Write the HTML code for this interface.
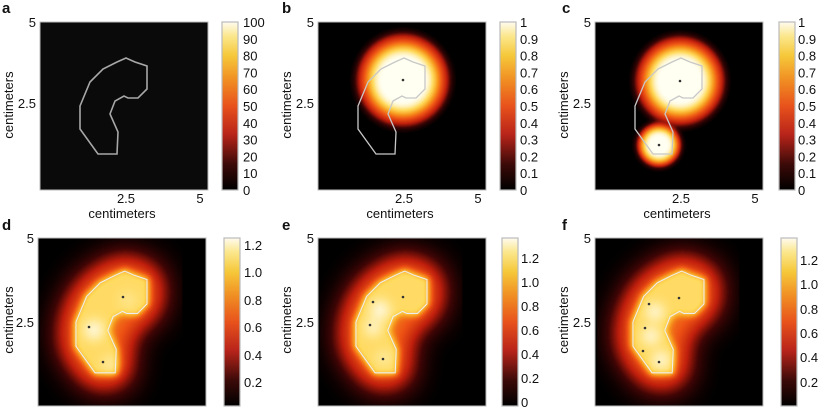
<!DOCTYPE html>
<html><head><meta charset="utf-8"><style>
html,body{margin:0;padding:0;background:#fff}
svg{display:block}
text{font-family:"Liberation Sans",Arial,sans-serif;fill:#111}
</style></head><body>
<svg width="818" height="412" viewBox="0 0 818 412" xmlns="http://www.w3.org/2000/svg">
<defs>
<path id="k" d="M86,36 L95,40 L107,44 L107,67 L98,76 L88,76 L84,74 L75,79 L70,92 L78,110 L77,132 L58,132 L40,107 L40,84 L50,60 L63,47 L77,40 Z"/>
<clipPath id="box"><rect x="0" y="0" width="168" height="168"/></clipPath>
<filter id="map" x="0" y="0" width="1" height="1" color-interpolation-filters="sRGB">
<feComponentTransfer>
<feFuncR type="table" tableValues="0 0.25 0.75 0.93 0.97 1 1"/>
<feFuncG type="table" tableValues="0 0.02 0.12 0.32 0.6 0.85 1"/>
<feFuncB type="table" tableValues="0 0.02 0.05 0.08 0.12 0.35 0.95"/>
<feFuncA type="linear" slope="0" intercept="1"/>
</feComponentTransfer>
</filter>
<filter id="b14" x="-50%" y="-50%" width="200%" height="200%"><feGaussianBlur stdDeviation="14"/></filter>
<filter id="b4" x="-50%" y="-50%" width="200%" height="200%"><feGaussianBlur stdDeviation="3"/></filter>
<filter id="b6" x="-50%" y="-50%" width="200%" height="200%"><feGaussianBlur stdDeviation="6"/></filter>
<filter id="b2" x="-50%" y="-50%" width="200%" height="200%"><feGaussianBlur stdDeviation="2.5"/></filter>
<radialGradient id="blob">
<stop offset="0" stop-color="#fff"/>
<stop offset="0.45" stop-color="#fff"/>
<stop offset="0.56" stop-color="#d8d8d8"/>
<stop offset="0.7" stop-color="#888"/>
<stop offset="0.85" stop-color="#404040"/>
<stop offset="1" stop-color="#000" stop-opacity="0"/>
</radialGradient>
<linearGradient id="cb" x1="0" y1="1" x2="0" y2="0">
<stop offset="0" stop-color="#000"/>
<stop offset="0.15" stop-color="#3a0a08"/>
<stop offset="0.33" stop-color="#b8241a"/>
<stop offset="0.5" stop-color="#e8521c"/>
<stop offset="0.65" stop-color="#f08c22"/>
<stop offset="0.8" stop-color="#f6c83a"/>
<stop offset="0.92" stop-color="#fbe890"/>
<stop offset="1" stop-color="#fffbf0"/>
</linearGradient>
<g id="kid">
<rect width="168" height="168" fill="#000"/>
<g transform="translate(74,85) scale(1.06) translate(-74,-85)">
<use href="#k" fill="#9a9a9a" stroke="#9a9a9a" stroke-width="32" stroke-linejoin="round" filter="url(#b14)"/>
<use href="#k" fill="#d8d8d8" stroke="#d8d8d8" stroke-width="4" filter="url(#b4)"/>
</g>
</g>
</defs>

<g font-weight="bold" font-size="15">
<text x="2" y="13">a</text><text x="282" y="13">b</text><text x="562" y="13">c</text>
<text x="2" y="230">d</text><text x="282" y="230">e</text><text x="562" y="230">f</text>
</g>

<g transform="translate(40,22)">
<rect width="168" height="168" fill="#0a0a0a"/>
<use href="#k" fill="none" stroke="#a8a8a8" stroke-width="1.6"/>
</g>
<g transform="translate(318,22)" clip-path="url(#box)">
<g filter="url(#map)"><rect width="168" height="168" fill="#000"/>
<g filter="url(#b2)"><circle cx="85" cy="58" r="54" fill="url(#blob)"/></g></g>
<use href="#k" fill="none" stroke="#c8c8c8" stroke-width="1.3"/>
<circle cx="85" cy="58" r="1.3" fill="#333"/>
</g>
<g transform="translate(595,22)" clip-path="url(#box)">
<g filter="url(#map)"><rect width="168" height="168" fill="#000"/>
<g filter="url(#b2)"><circle cx="85" cy="59" r="52" fill="url(#blob)"/><circle cx="64" cy="123" r="26" fill="url(#blob)"/></g></g>
<use href="#k" fill="none" stroke="#c8c8c8" stroke-width="1.3"/>
<circle cx="85" cy="59" r="1.3" fill="#333"/><circle cx="64" cy="123" r="1.3" fill="#333"/>
</g>

<g transform="translate(38,238)" clip-path="url(#box)">
<g filter="url(#map)"><use href="#kid"/>
<g fill="#fff" filter="url(#b6)"><circle cx="90" cy="62" r="7" fill="#e8e8e8"/><circle cx="56" cy="92" r="9"/><circle cx="72" cy="126" r="7" fill="#eee"/></g></g>
<g transform="translate(74,85) scale(1.06) translate(-74,-85)"><use href="#k" fill="none" stroke="#eee" stroke-width="1"/></g>
<g fill="#333"><circle cx="85" cy="59" r="1.3"/><circle cx="51" cy="89" r="1.3"/><circle cx="65" cy="124" r="1.3"/></g>
</g>
<g transform="translate(318,238)" clip-path="url(#box)">
<g filter="url(#map)"><use href="#kid"/>
<g fill="#fff" filter="url(#b6)"><circle cx="62" cy="72" r="9"/><circle cx="55" cy="90" r="7"/><circle cx="66" cy="120" r="7" fill="#eee"/></g></g>
<g transform="translate(74,85) scale(1.06) translate(-74,-85)"><use href="#k" fill="none" stroke="#eee" stroke-width="1"/></g>
<g fill="#333"><circle cx="85" cy="59" r="1.3"/><circle cx="55" cy="64" r="1.3"/><circle cx="52" cy="87" r="1.3"/><circle cx="65" cy="121" r="1.3"/></g>
</g>
<g transform="translate(595,238)" clip-path="url(#box)">
<g filter="url(#map)"><use href="#kid"/>
<g fill="#fff" filter="url(#b6)"><circle cx="60" cy="74" r="8"/><circle cx="56" cy="98" r="8"/><circle cx="66" cy="122" r="8"/></g></g>
<g transform="translate(74,85) scale(1.06) translate(-74,-85)"><use href="#k" fill="none" stroke="#eee" stroke-width="1"/></g>
<g fill="#333"><circle cx="84" cy="60" r="1.3"/><circle cx="54" cy="66" r="1.3"/><circle cx="50" cy="90" r="1.3"/><circle cx="48" cy="113" r="1.3"/><circle cx="64" cy="124" r="1.3"/></g>
</g>

<g fill="none" stroke="#bbb" stroke-width="1">
<rect x="40" y="22" width="168" height="168"/><rect x="318" y="22" width="168" height="168"/><rect x="595" y="22" width="168" height="168"/>
<rect x="38" y="238" width="168" height="168"/><rect x="318" y="238" width="168" height="168"/><rect x="595" y="238" width="168" height="168"/>
</g>

<g fill="url(#cb)" stroke="#bbb" stroke-width="1.2">
<rect x="222" y="22" width="16" height="168"/><rect x="500" y="22" width="16" height="168"/><rect x="779" y="22" width="16" height="168"/>
<rect x="224" y="238" width="16" height="168"/><rect x="502" y="238" width="16" height="168"/><rect x="781" y="238" width="16" height="168"/>
</g>

<g font-size="13" text-anchor="end">
<text x="36" y="27">5</text><text x="36" y="108">2.5</text>
<text x="314" y="27">5</text><text x="314" y="108">2.5</text>
<text x="591" y="27">5</text><text x="591" y="108">2.5</text>
<text x="34" y="243">5</text><text x="34" y="327">2.5</text>
<text x="314" y="243">5</text><text x="314" y="327">2.5</text>
<text x="591" y="243">5</text><text x="591" y="327">2.5</text>
</g>
<g font-size="13" text-anchor="middle">
<text x="126" y="203">2.5</text><text x="200" y="203">5</text><text x="122" y="218">centimeters</text>
<text x="404" y="203">2.5</text><text x="478" y="203">5</text><text x="400" y="218">centimeters</text>
<text x="681" y="203">2.5</text><text x="755" y="203">5</text><text x="677" y="218">centimeters</text>
<text transform="translate(13,105) rotate(-90)">centimeters</text>
<text transform="translate(291,105) rotate(-90)">centimeters</text>
<text transform="translate(568,105) rotate(-90)">centimeters</text>
<text transform="translate(13,320) rotate(-90)">centimeters</text>
<text transform="translate(291,320) rotate(-90)">centimeters</text>
<text transform="translate(568,320) rotate(-90)">centimeters</text>
</g>

<g font-size="13">
<text x="243" y="27">100</text><text x="243" y="43.8">90</text><text x="243" y="60.6">80</text><text x="243" y="77.4">70</text><text x="243" y="94.2">60</text><text x="243" y="111">50</text><text x="243" y="127.8">40</text><text x="243" y="144.6">30</text><text x="243" y="161.4">20</text><text x="243" y="178.2">10</text><text x="243" y="195">0</text>
<text x="520" y="27">1</text><text x="520" y="43.8">0.9</text><text x="520" y="60.6">0.8</text><text x="520" y="77.4">0.7</text><text x="520" y="94.2">0.6</text><text x="520" y="111">0.5</text><text x="520" y="127.8">0.4</text><text x="520" y="144.6">0.3</text><text x="520" y="161.4">0.2</text><text x="520" y="178.2">0.1</text><text x="520" y="195">0</text>
<text x="798" y="27">1</text><text x="798" y="43.8">0.9</text><text x="798" y="60.6">0.8</text><text x="798" y="77.4">0.7</text><text x="798" y="94.2">0.6</text><text x="798" y="111">0.5</text><text x="798" y="127.8">0.4</text><text x="798" y="144.6">0.3</text><text x="798" y="161.4">0.2</text><text x="798" y="178.2">0.1</text><text x="798" y="195">0</text>
<text x="244" y="250">1.2</text><text x="244" y="277">1.0</text><text x="244" y="305">0.8</text><text x="244" y="332">0.6</text><text x="244" y="360">0.4</text><text x="244" y="387">0.2</text>
<text x="521" y="263">1.2</text><text x="521" y="287">1.0</text><text x="521" y="311">0.8</text><text x="521" y="335">0.6</text><text x="521" y="359">0.4</text><text x="521" y="383">0.2</text><text x="521" y="407">0</text>
<text x="800" y="265">1.2</text><text x="800" y="289">1.0</text><text x="800" y="314">0.8</text><text x="800" y="338">0.6</text><text x="800" y="362">0.4</text><text x="800" y="387">0.2</text>
</g>
</svg>
</body></html>
